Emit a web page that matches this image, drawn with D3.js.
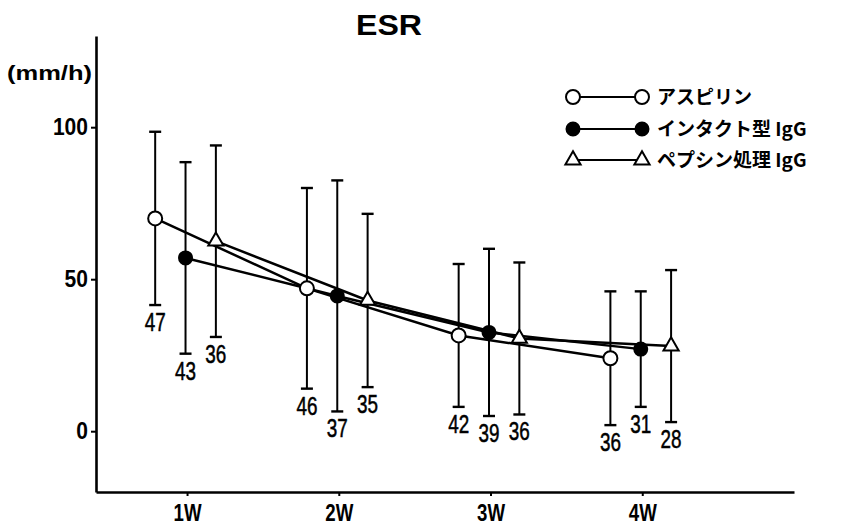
<!DOCTYPE html>
<html>
<head>
<meta charset="utf-8">
<script src="https://cdn.jsdelivr.net/npm/d3@7"></script>
<style>
  body { margin: 0; background: #fff; }
  text { fill: #000; }
</style>
</head>
<body>
<script>
let width = 845,
  height = 529

// data: mean, SD and n per week
let weeks = ['1W', '2W', '3W', '4W']
let weekNums = [1, 2, 3, 4]
let yTicks = [0, 50, 100]

let aspirinMean = [70, 47, 31.5, 24]
let aspirinSD = [28.5, 33, 23.5, 22]
let aspirinN = [47, 46, 42, 36]

let intactMean = [57, 44.5, 32.5, 27]
let intactSD = [31.5, 38, 27.5, 19]
let intactN = [43, 37, 39, 31]

let pepsinMean = [62.5, 43, 30.5, 28]
let pepsinSD = [31.5, 28.5, 25, 25]
let pepsinN = [36, 35, 36, 28]

let series = [
  { name: 'アスピリン', mean: aspirinMean, sd: aspirinSD, n: aspirinN, shift: -0.21, mark: 'open' },
  { name: 'インタクト型 IgG', mean: intactMean, sd: intactSD, n: intactN, shift: -0.01, mark: 'filled' },
  { name: 'ペプシン処理 IgG', mean: pepsinMean, sd: pepsinSD, n: pepsinN, shift: 0.19, mark: 'triangle' }
]

let x = d3.scaleLinear().domain([0.4, 5.0]).range([96, 794])
let y = d3.scaleLinear().domain([-20, 130]).range([492, 36])

let svg = d3.select('body').append('svg')
  .attr('width', width)
  .attr('height', height)

let sans = '"Liberation Sans", Arial, sans-serif'
let jp = '"Noto Sans CJK JP", "Noto Sans", sans-serif'

// title + unit
svg.append('text')
  .attr('x', 389).attr('y', 35)
  .attr('text-anchor', 'middle')
  .attr('font-family', sans)
  .attr('font-weight', 700)
  .attr('font-size', 29)
  .attr('textLength', 66)
  .attr('lengthAdjust', 'spacingAndGlyphs')
  .text('ESR')

svg.append('text')
  .attr('x', 7).attr('y', 80)
  .attr('font-family', sans)
  .attr('font-weight', 700)
  .attr('font-size', 21)
  .attr('textLength', 85)
  .attr('lengthAdjust', 'spacingAndGlyphs')
  .text('(mm/h)')

// axes
let yAxis = svg.append('g')
  .attr('transform', `translate(${x(0.4)},0)`)
  .call(d3.axisLeft(y).tickValues(yTicks).tickSize(5).tickSizeOuter(0).tickPadding(3))

let xAxis = svg.append('g')
  .attr('transform', `translate(0,${y(-20)})`)
  .call(d3.axisBottom(x).tickValues(weekNums).tickFormat((d, i) => weeks[i])
    .tickSize(4).tickSizeOuter(0).tickPadding(9))

function styleAxis(ax, charW) {
  ax.select('.domain').attr('stroke', '#000').attr('stroke-width', 2.6)
  ax.selectAll('.tick line').attr('stroke', '#000').attr('stroke-width', 2)
  ax.selectAll('.tick text')
    .attr('font-family', sans)
    .attr('font-weight', 700)
    .attr('font-size', 23)
    .attr('fill', '#000')
    .attr('textLength', function() { return this.textContent.length * charW })
    .attr('lengthAdjust', 'spacingAndGlyphs')
}
styleAxis(yAxis, 11.7)
styleAxis(xAxis, 14)

// error bars first, then lines, then markers
series.forEach(s => {
  let g = svg.append('g').attr('class', 'errbars')
  let rows = weekNums.map((w, i) => ({ w: w + s.shift, m: s.mean[i], sd: s.sd[i], n: s.n[i] }))

  let bar = g.selectAll('g').data(rows).enter().append('g')
  bar.append('line')
    .attr('x1', d => x(d.w)).attr('x2', d => x(d.w))
    .attr('y1', d => y(d.m + d.sd)).attr('y2', d => y(d.m - d.sd))
    .attr('stroke', '#000').attr('stroke-width', 2)
  bar.append('line')
    .attr('x1', d => x(d.w) - 6).attr('x2', d => x(d.w) + 6)
    .attr('y1', d => y(d.m + d.sd)).attr('y2', d => y(d.m + d.sd))
    .attr('stroke', '#000').attr('stroke-width', 2.4)
  bar.append('line')
    .attr('x1', d => x(d.w) - 6).attr('x2', d => x(d.w) + 6)
    .attr('y1', d => y(d.m - d.sd)).attr('y2', d => y(d.m - d.sd))
    .attr('stroke', '#000').attr('stroke-width', 2.4)
  // n labels: tall, narrow digits
  bar.append('text')
    .attr('x', d => x(d.w))
    .attr('y', d => y(d.m - d.sd) + 26)
    .attr('text-anchor', 'middle')
    .attr('font-family', sans)
    .attr('font-size', 25)
    .attr('stroke', '#000')
    .attr('stroke-width', 0.5)
    .attr('textLength', 21)
    .attr('lengthAdjust', 'spacingAndGlyphs')
    .text(d => d.n)
  s.rows = rows
})

let line = d3.line().x(d => x(d.w)).y(d => y(d.m))

series.forEach(s => {
  svg.append('path')
    .datum(s.rows)
    .attr('d', line)
    .attr('fill', 'none')
    .attr('stroke', '#000')
    .attr('stroke-width', 2.5)
})

function drawMark(g, kind, cx, cy) {
  if (kind === 'triangle') {
    g.append('path')
      .attr('d', d3.symbol().type(d3.symbolTriangle).size(100)())
      .attr('transform', `translate(${cx},${cy})`)
      .attr('fill', '#fff').attr('stroke', '#000').attr('stroke-width', 2)
  } else {
    g.append('circle')
      .attr('cx', cx).attr('cy', cy)
      .attr('r', kind === 'open' ? 7 : 6.5)
      .attr('fill', kind === 'open' ? '#fff' : '#000')
      .attr('stroke', '#000').attr('stroke-width', 2)
  }
}

series.forEach(s => {
  let g = svg.append('g').attr('class', 'marks')
  s.rows.forEach(d => drawMark(g, s.mark, x(d.w), y(d.m)))
})

// legend
let legendY = [97, 129, 160]
series.forEach((s, i) => {
  let g = svg.append('g').attr('class', 'legend-item')
    .attr('transform', `translate(0,${legendY[i]})`)
  g.append('line')
    .attr('x1', 573).attr('x2', 642)
    .attr('stroke', '#000').attr('stroke-width', 2)
  drawMark(g, s.mark, 573, 0)
  drawMark(g, s.mark, 642, 0)
  g.append('text')
    .attr('x', 657).attr('y', 0)
    .attr('dy', '0.35em')
    .attr('font-family', jp)
    .attr('font-weight', 700)
    .attr('font-size', 19)
    .text(s.name)
})
</script>
</body>
</html>
